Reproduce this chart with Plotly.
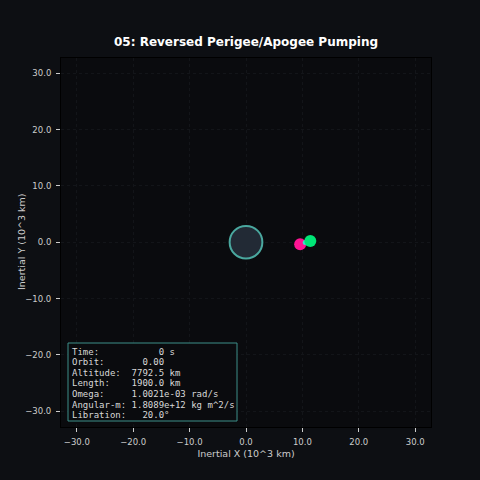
import plotly.graph_objects as go

# state at t = 0 (units: 10^3 km)
earth_center = (0.0, 0.0)
earth_radius = 2.9
mass_a_x = [9.6]
mass_a_y = [-0.38]
mass_b_x = [11.4]
mass_b_y = [0.2]
com_x = [10.5]
com_y = [-0.05]

tick_vals = [-30, -20, -10, 0, 10, 20, 30]

info_lines = [
    ("Time:", "           0 s"),
    ("Orbit:", "       0.00"),
    ("Altitude:", "  7792.5 km"),
    ("Length:", "    1900.0 km"),
    ("Omega:", "     1.0021e-03 rad/s"),
    ("Angular-m:", " 1.8089e+12 kg m^2/s"),
    ("Libration:", "   20.0°"),
]

PAPER = '#0d0f13'
PLOT = '#0a0b0e'
TXT = '#cccccc'

# plot area in pixels (margins below)
L, R, T, B = 61, 431, 58, 427


def px_x(px):
    return (px - L) / (R - L)


def px_y(py):
    return (B - py) / (B - T)


fig = go.Figure()

# tether masses
fig.add_trace(go.Scatter(x=mass_a_x, y=mass_a_y, mode='markers',
                         marker=dict(size=12, color='#ff1493', line=dict(width=0)),
                         hoverinfo='skip', showlegend=False))
fig.add_trace(go.Scatter(x=com_x, y=com_y, mode='markers',
                         marker=dict(size=5, color='#40e0d0', line=dict(width=0)),
                         hoverinfo='skip', showlegend=False))
fig.add_trace(go.Scatter(x=mass_b_x, y=mass_b_y, mode='markers',
                         marker=dict(size=12, color='#00e676', line=dict(width=0)),
                         hoverinfo='skip', showlegend=False))

# earth
fig.add_shape(type='circle', xref='x', yref='y',
              x0=earth_center[0] - earth_radius, x1=earth_center[0] + earth_radius,
              y0=earth_center[1] - earth_radius, y1=earth_center[1] + earth_radius,
              fillcolor='#222a35', line=dict(color='#4aa89f', width=2), layer='above')

# info box
fig.add_shape(type='rect', xref='paper', yref='paper',
              x0=px_x(68), x1=px_x(237), y0=px_y(421), y1=px_y(343),
              fillcolor=PLOT, line=dict(color='#3d8f88', width=1), layer='above')
for i, (k, v) in enumerate(info_lines):
    fig.add_annotation(text=(k + v).replace(' ', '\u00a0'), xref='paper', yref='paper',
                       x=px_x(70), y=px_y(351.5 + i * 10.65),
                       xanchor='left', yanchor='middle', align='left', showarrow=False,
                       font=dict(family='DejaVu Sans Mono', size=9, color='#d8d8d8'))

# y axis title placed by hand
fig.add_annotation(text='Inertial Y (10^3 km)', xref='paper', yref='paper',
                   x=px_x(21), y=px_y(242), textangle=-90, showarrow=False,
                   xanchor='center', yanchor='middle',
                   font=dict(family='DejaVu Sans', size=9.5, color=TXT))

axis_common = dict(
    tickvals=tick_vals, tickformat='.1f', ticks='outside', ticklen=4, tickcolor=TXT,
    ticklabelstandoff=3, automargin=False,
    tickfont=dict(family='DejaVu Sans', size=8.5, color=TXT),
    showgrid=True, gridcolor='#131519', gridwidth=0.8, griddash='dot',
    zeroline=False, showline=True, linecolor='#000000', linewidth=1, mirror=True,
)

fig.update_layout(
    width=480, height=480,
    paper_bgcolor=PAPER, plot_bgcolor=PLOT,
    margin=dict(l=L, r=480 - R, t=T, b=480 - B),
    title=dict(text='<b>05: Reversed Perigee/Apogee Pumping</b>', x=0.5, xref='paper',
               y=1 - 42 / 480, yanchor='middle',
               font=dict(family='DejaVu Sans', size=12, color='#ffffff')),
    xaxis=dict(range=[-32.8, 32.8], title=dict(text='Inertial X (10^3 km)', standoff=4,
               font=dict(family='DejaVu Sans', size=9.5, color=TXT)), **axis_common),
    yaxis=dict(range=[-32.8, 32.7], **axis_common),
    showlegend=False,
)

fig.write_html('out.html', config={'displayModeBar': False},
               post_script="document.body.style.margin='0';"
                           "document.body.style.background='%s';" % PAPER)
